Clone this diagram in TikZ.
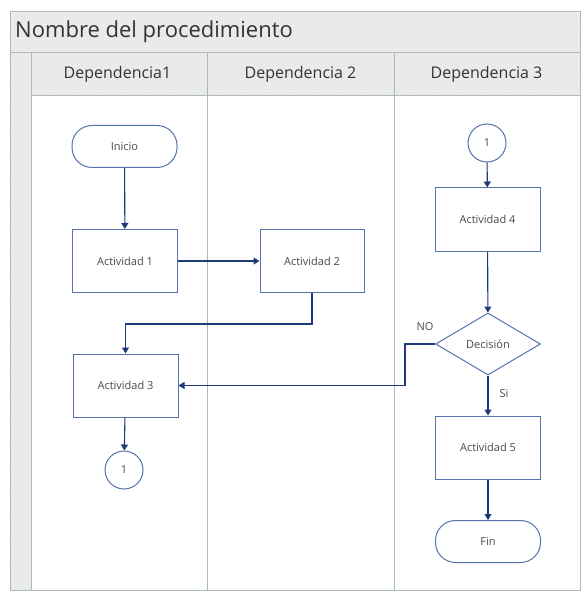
\documentclass[tikz,border=0pt]{standalone}
\usepackage{fontspec}
\setmainfont{Open Sans}
\usetikzlibrary{arrows.meta,shapes.geometric,patterns}
\definecolor{framec}{HTML}{A9BBB3}
\definecolor{hatchbg}{HTML}{EEEEEE}
\definecolor{hatchln}{HTML}{E4E4E4}
\definecolor{shapec}{HTML}{5473AC}
\definecolor{arrc}{HTML}{1F3A78}
\definecolor{txtc}{HTML}{333333}
\definecolor{ntxt}{HTML}{4A4A4A}
\tikzset{
  hatched/.style={fill=hatchbg, postaction={pattern=north west lines, pattern color=hatchln}},
  frameline/.style={draw=framec, line width=1pt},
  smallfont/.style={font=\fontsize{11}{13}\selectfont},
  boxnode/.style={draw=shapec, line width=1pt, fill=white, minimum width=105pt, minimum height=63pt, inner sep=0pt, smallfont, text=ntxt},
  termnode/.style={boxnode, rounded corners=20pt, minimum height=42pt},
  connnode/.style={draw=shapec, line width=1pt, fill=white, circle, minimum size=38pt, inner sep=0pt, smallfont, text=ntxt},
  decnode/.style={draw=shapec, line width=1pt, fill=white, diamond, minimum width=105pt, minimum height=62pt, inner sep=0pt, smallfont, text=ntxt},
  arr/.style={draw=arrc, line width=1.1pt, -{Triangle[width=7pt,length=6pt]}},
  lbl/.style={smallfont, text=ntxt},
  hdr/.style={font=\fontsize{16}{18}\selectfont, text=txtc},
}
\begin{document}
\begin{tikzpicture}[x=1pt,y=-1pt]
\useasboundingbox (0,0) rectangle (582,593);
% frame
\path[hatched] (10,12) rectangle (580,53);
\path[hatched] (31,53) rectangle (580,96);
\path[hatched] (10,53) rectangle (31,590);
\fill[white] (31,96) rectangle (580,590);
\draw[frameline] (10,12) rectangle (580,590);
\draw[frameline] (10,53) -- (580,53);
\draw[frameline] (31,96) -- (580,96);
\draw[frameline] (31,53) -- (31,590);
\draw[frameline] (207,53) -- (207,590);
\draw[frameline] (394,53) -- (394,590);
\node[anchor=west, inner sep=0pt, font=\fontsize{22}{25}\selectfont, text=txtc] (title) at (15,31.5) {Nombre del procedimiento};
\node[hdr] (h1) at (117.5,74) {Dependencia1};
\node[hdr] (h2) at (300.5,74) {Dependencia 2};
\node[hdr] (h3) at (486.5,74) {Dependencia 3};
% nodes
\node[termnode] (inicio) at (124.5,146.5) {Inicio};
\node[boxnode] (a1) at (125,261) {Actividad 1};
\node[boxnode, minimum width=104pt] (a2) at (312,261) {Actividad 2};
\node[boxnode] (a3) at (125.5,385.5) {Actividad 3};
\node[connnode] (c1) at (124,470) {1};
\node[connnode] (c2) at (487,143) {1};
\node[boxnode] (a4) at (487.5,219.5) {Actividad 4};
\node[decnode] (dec) at (488,344) {Decisión};
\node[boxnode] (a5) at (488,447.5) {Actividad 5};
\node[termnode] (fin) at (488,541.5) {Fin};
% connectors
\draw[arr] (inicio) -- (a1);
\draw[arr] (a1) -- (a2);
\draw[arr] (a2.south) -- ++(0,31) -| (a3.north);
\draw[arr] (a3) -- (c1);
\draw[arr] (c2) -- (a4);
\draw[arr] (a4) -- (dec);
\draw[arr] (dec) -- (a5);
\draw[arr] (a5) -- (fin);
\draw[arr] (dec.west) -- ++(-30,0) |- (a3.east);
\node[lbl] (no) at (425,327) {NO};
\node[lbl] (si) at (504,394) {Si};
\end{tikzpicture}
\end{document}
